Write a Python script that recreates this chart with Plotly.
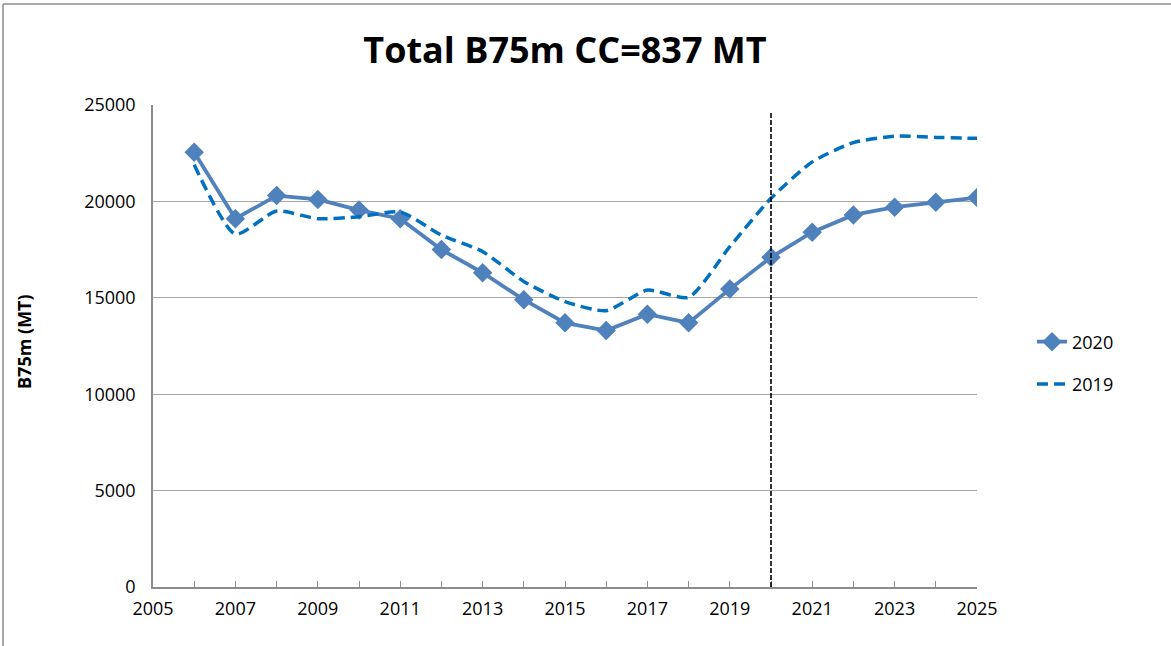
import plotly.graph_objects as go

years = list(range(2006, 2026))
b75_2020 = [22550, 19100, 20300, 20100, 19550, 19100, 17500, 16300, 14900, 13700,
            13300, 14150, 13700, 15450, 17100, 18400, 19300, 19700, 19950, 20200]
b75_2019 = [21900, 18300, 19500, 19100, 19200, 19450, 18250, 17400, 15850, 14800,
            14330, 15400, 15020, 17650, 20160, 22050, 23050, 23380, 23320, 23270]
marker_year = 2020
marker_top = 24600

W, H = 1171, 646
ML, MR, MT, MB = 153, 194, 105, 59
PW, PH = W - ML - MR, H - MT - MB


def px_to_paper_x(px):
    return (px - ML) / PW


def px_to_paper_y(py):
    return (H - MB - py) / PH


fig = go.Figure()
fig.add_trace(go.Scatter(
    x=years, y=b75_2020, name="2020", mode="lines+markers", legendgroup="a",
    line=dict(color="#4F81BD", width=3.8),
    marker=dict(symbol="diamond", size=15, color="#4F81BD"),
))
fig.add_trace(go.Scatter(
    x=years, y=b75_2019, name="2019", mode="lines", legendgroup="b",
    line=dict(color="#0070C0", width=3.5, dash="11px,6px", shape="spline", smoothing=0.6),
))

fig.add_shape(type="line", xref="x", yref="y", x0=marker_year, x1=marker_year,
              y0=0, y1=marker_top, line=dict(color="black", width=1.6, dash="5px,2px"))

# outer chart frame (left & top edges visible)
fig.add_shape(type="line", xref="paper", yref="paper",
              x0=px_to_paper_x(3), x1=px_to_paper_x(3),
              y0=px_to_paper_y(4), y1=px_to_paper_y(660),
              line=dict(color="#8C8C8C", width=1.5))
fig.add_shape(type="line", xref="paper", yref="paper",
              x0=px_to_paper_x(3), x1=px_to_paper_x(1180),
              y0=px_to_paper_y(4), y1=px_to_paper_y(4),
              line=dict(color="#8C8C8C", width=1.5))

font_main = "Open Sans, Arial, sans-serif"

fig.add_annotation(text="<b>B75m (MT)</b>", xref="paper", yref="paper",
                   x=px_to_paper_x(24), y=px_to_paper_y(342), textangle=-90,
                   showarrow=False, xanchor="center", yanchor="middle",
                   font=dict(family=font_main, size=18, color="black"))

fig.update_layout(
    width=W, height=H,
    margin=dict(l=ML, r=MR, t=MT, b=MB),
    paper_bgcolor="white", plot_bgcolor="white",
    title=dict(text="<b>Total B75m CC=837 MT</b>", x=0.5, xanchor="center",
               xref="paper", y=1 - 50 / H, yanchor="middle",
               font=dict(family=font_main, size=36, color="black")),
    font=dict(family=font_main, size=18, color="black"),
    showlegend=True,
    legend=dict(x=px_to_paper_x(1032), y=px_to_paper_y(363), xanchor="left", yanchor="middle",
                font=dict(size=18), tracegroupgap=16,
                bgcolor="rgba(0,0,0,0)"),
    xaxis=dict(range=[2005, 2025], tickmode="linear", tick0=2005, dtick=2,
               showgrid=False, zeroline=False, showline=True, linecolor="#8C8C8C", linewidth=1.5,
               ticks="inside", ticklen=6, tickcolor="#8C8C8C",
               minor=dict(dtick=1, tick0=2005, ticks="inside", ticklen=6, tickcolor="#8C8C8C", showgrid=False),
               tickfont=dict(size=18), ticklabelstandoff=5),
    yaxis=dict(range=[0, 25000], tickmode="linear", tick0=0, dtick=5000, tickformat="d",
               showgrid=True, gridcolor="#A6A6A6", gridwidth=1, zeroline=False,
               showline=True, linecolor="#8C8C8C", linewidth=1.5,
               ticks="", tickfont=dict(size=18), ticklabelstandoff=12),
)

fig.write_html("out.html", config={"displayModeBar": False},
               post_script="document.body.style.margin='0';document.body.style.overflow='hidden';")
